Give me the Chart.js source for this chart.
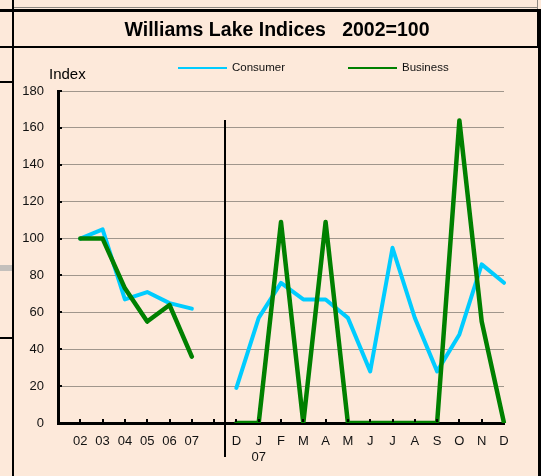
<!DOCTYPE html>
<html>
<head>
<meta charset="utf-8">
<script src="https://cdn.jsdelivr.net/npm/chart.js@4"></script>
<style>
  html, body { margin: 0; padding: 0; background: #fde9da; }
  canvas { display: block; }
</style>
</head>
<body>
<canvas id="myChart" width="541" height="476"></canvas>
<script>
const yearLabels = ['02', '03', '04', '05', '06', '07'];
const monthLabels = ['D', ['J', '07'], 'F', 'M', 'A', 'M', 'J', 'J', 'A', 'S', 'O', 'N', 'D'];

const consumerYears = [100, 105, 67, 71, 65, 62];
const businessYears = [100, 100, 73, 55, 64, 36];

const consumerMonths = [19, 57, 76, 67, 67, 57, 28, 95, 57, 28, 48, 86, 76];
const businessMonths = [0, 0, 109, 0, 109, 0, 0, 0, 0, 0, 164, 55, 0];

const yTicks = [0, 20, 40, 60, 80, 100, 120, 140, 160, 180];

/* 연도 구간과 월 구간 사이에 빈 칸 하나, 맨 앞(세로축 자리)에도 빈 칸 하나 */
const labels = [''].concat(yearLabels, [''], monthLabels);
const consumer = [null].concat(consumerYears, [null], consumerMonths);
const business = [null].concat(businessYears, [null], businessMonths);

const FONT = "'Liberation Sans', Arial, sans-serif";
const PEACH = '#fde9da';

/* 바깥 테두리, 제목, 범례, 구분선 그리는 부분 */
const frame = {
  id: 'frame',
  beforeDraw(chart) {
    const ctx = chart.ctx;
    ctx.save();
    ctx.fillStyle = PEACH;
    ctx.fillRect(0, 0, chart.width, chart.height);

    ctx.fillStyle = '#000';
    ctx.fillRect(0, 9, 541, 3);      // 제목 위 굵은 선
    ctx.fillRect(0, 46, 541, 2);     // 제목 아래 선
    ctx.fillRect(12, 0, 2, 476);     // 왼쪽 세로선
    ctx.fillRect(537, 9, 4, 39);     // 제목 상자 오른쪽
    ctx.fillRect(538, 48, 3, 428);   // 오른쪽 세로선
    ctx.fillRect(0, 81, 12, 2);
    ctx.fillRect(0, 337, 12, 2);
    ctx.fillStyle = '#8c8680';
    ctx.fillRect(14, 7, 523, 1);
    ctx.fillRect(537, 0, 1, 9);
    ctx.fillStyle = '#c4c0bc';
    ctx.fillRect(0, 265, 12, 6);

    ctx.fillStyle = '#000';
    ctx.font = 'bold 19.5px ' + FONT;
    ctx.textAlign = 'center';
    ctx.textBaseline = 'alphabetic';
    ctx.fillText('Williams Lake Indices   2002=100', 277, 36);

    ctx.font = '15px ' + FONT;
    ctx.textAlign = 'left';
    ctx.fillText('Index', 49, 79);
    ctx.restore();
  },
  afterDraw(chart) {
    const ctx = chart.ctx;
    const x = chart.scales.x;
    const y = chart.scales.y;
    ctx.save();

    // 연도/월 구분선
    const sep = (x.getPixelForValue(7) + x.getPixelForValue(8)) / 2;
    ctx.fillStyle = '#000';
    ctx.fillRect(Math.round(sep) - 1, 120, 2, 337);

    // 눈금 표시
    for (let i = 1; i < labels.length - 1; i++) {
      ctx.fillRect(Math.round(x.getPixelForValue(i)) - 1, y.bottom - 4, 2, 3);
    }
    yTicks.forEach((v) => {
      ctx.fillRect(x.left, Math.round(y.getPixelForValue(v)) - 1, 4, 2);
    });

    // 범례
    ctx.font = '11.5px ' + FONT;
    ctx.textBaseline = 'middle';
    ctx.textAlign = 'left';
    const items = [
      { ds: chart.data.datasets[0], x0: 178, x1: 227, tx: 232 },
      { ds: chart.data.datasets[1], x0: 348, x1: 397, tx: 402 },
    ];
    items.forEach((it) => {
      ctx.fillStyle = it.ds.borderColor;
      ctx.fillRect(it.x0, 67, it.x1 - it.x0, 2);
      ctx.fillStyle = '#111';
      ctx.fillText(it.ds.label, it.tx, 68);
    });
    ctx.restore();
  },
};

const ctx = document.getElementById('myChart');

new Chart(ctx, {
  type: 'line',
  data: {
    labels: labels,
    datasets: [
      {
        label: 'Consumer',
        data: consumer,
        borderColor: '#00ccff',
        backgroundColor: '#00ccff',
        borderWidth: 4,
        borderJoinStyle: 'round',
        borderCapStyle: 'round',
        pointRadius: 0,
        tension: 0,
        order: 1,
      },
      {
        label: 'Business',
        data: business,
        borderColor: '#008000',
        backgroundColor: '#008000',
        borderWidth: 4.5,
        borderJoinStyle: 'round',
        borderCapStyle: 'round',
        pointRadius: 0,
        tension: 0,
        order: 0,
      },
    ],
  },
  options: {
    responsive: false,
    animation: false,
    events: [],
    layout: {
      padding: { top: 91, right: 37, left: 0, bottom: 0 },
    },
    plugins: {
      legend: { display: false },
      title: { display: false },
      tooltip: { enabled: false },
    },
    scales: {
      x: {
        type: 'category',
        offset: false,
        afterFit(scale) {
          scale.height = 53;
        },
        grid: { drawOnChartArea: false, drawTicks: false },
        border: { color: '#000', width: 3 },
        ticks: {
          autoSkip: false,
          maxRotation: 0,
          padding: 11,
          color: '#111',
          font: { family: FONT, size: 13, lineHeight: 1.2 },
        },
      },
      y: {
        min: 0,
        max: 180,
        afterFit(scale) {
          scale.width = 58;
        },
        afterBuildTicks(scale) {
          scale.ticks = yTicks.map((v) => ({ value: v }));
        },
        grid: { color: '#a0968c', lineWidth: 1, drawTicks: false },
        border: { color: '#000', width: 3 },
        ticks: {
          padding: 14,
          color: '#111',
          font: { family: FONT, size: 13 },
        },
      },
    },
  },
  plugins: [frame],
});
</script>
</body>
</html>
